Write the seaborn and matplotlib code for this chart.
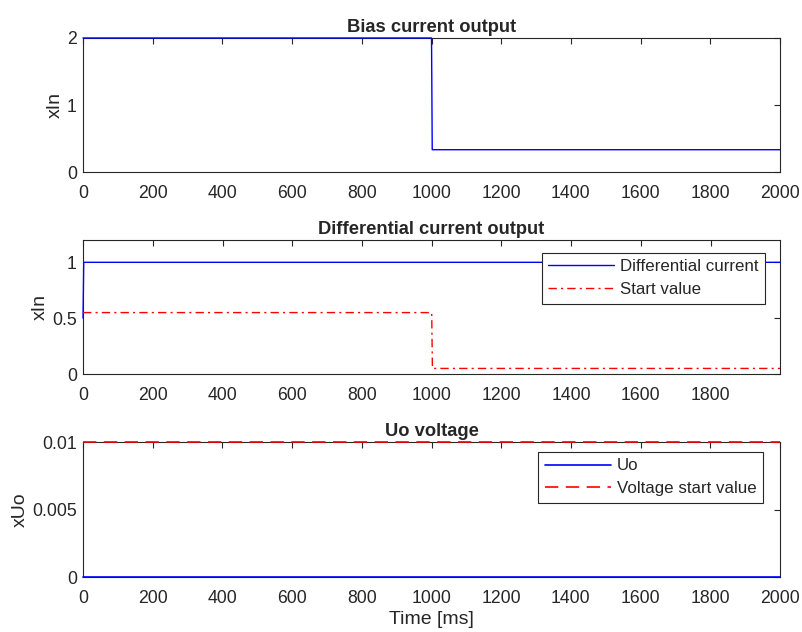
"""Bias current, differential current and Uo voltage over time (MATLAB-style subplots)."""

import matplotlib
matplotlib.use("Agg")
import matplotlib.pyplot as plt
import pandas as pd
import seaborn as sns

# Bias current output
bias_time = [0, 1000, 1002, 2000]
bias_value = [2, 2, 0.333, 0.333]

# Differential current output
diff_time = [0, 2, 1999]
diff_value = [0.5, 1, 1]
start_time = [0, 1000, 1002, 1999]
start_value = [0.55, 0.55, 0.05, 0.05]

# Uo voltage
uo_time = [0, 2000]
uo_value = [0, 0]
uo_start_value = [0.01, 0.01]

sns.set_theme(style="white")
plt.rcParams["font.family"] = ["Liberation Sans", "DejaVu Sans"]
plt.rcParams["axes.edgecolor"] = "#262626"
plt.rcParams["xtick.color"] = "#262626"
plt.rcParams["ytick.color"] = "#262626"

BLUE = "#0000ff"
RED = "#ff0000"
DASHDOT = (6, 3, 1.5, 3)
DASHED = (8, 4.5)


def style_axes(ax, xlim, ylim, yticks, xticks, title, ylabel):
    ax.set_xlim(*xlim)
    ax.set_ylim(*ylim)
    ax.set_xticks(xticks)
    ax.set_yticks(yticks)
    ax.tick_params(direction="in", top=True, right=True, length=4, width=0.8,
                   labelsize=12.7)
    ax.tick_params(axis="x", pad=9)
    ax.tick_params(axis="y", pad=4.5)
    for spine in ax.spines.values():
        spine.set_linewidth(0.8)
    ax.set_title(title, fontsize=13.2, fontweight="bold", pad=4)
    ax.set_ylabel(ylabel, fontsize=14, labelpad=2)
    ax.set_xlabel("")


def add_legend(ax, anchor):
    leg = ax.legend(loc="upper right", bbox_to_anchor=anchor,
                    borderaxespad=0, fontsize=12.2, handlelength=3.9,
                    fancybox=False, framealpha=1, edgecolor="#262626",
                    borderpad=0.38, labelspacing=0.46, handletextpad=0.35)
    leg.get_frame().set_linewidth(0.8)
    return leg


fig = plt.figure(figsize=(8.03, 6.32), dpi=100)
left, width = 0.1034, 0.868
ax1 = fig.add_axes([left, 0.7278, width, 0.2121])
ax2 = fig.add_axes([left, 0.4082, width, 0.2121])
ax3 = fig.add_axes([left, 0.0870, width, 0.2136])

x_ticks = list(range(0, 2001, 200))

# Panel 1
df1 = pd.DataFrame({"t": bias_time, "v": bias_value})
sns.lineplot(data=df1, x="t", y="v", ax=ax1, color=BLUE, linewidth=1,
             sort=False, estimator=None)
style_axes(ax1, (0, 2000), (0, 2), [0, 1, 2], x_ticks,
           "Bias current output", "xIn")

# Panel 2
df2a = pd.DataFrame({"t": diff_time, "v": diff_value})
df2b = pd.DataFrame({"t": start_time, "v": start_value})
sns.lineplot(data=df2a, x="t", y="v", ax=ax2, color=BLUE, linewidth=1,
             sort=False, estimator=None, label="Differential current")
sns.lineplot(data=df2b, x="t", y="v", ax=ax2, color=RED, linewidth=1,
             sort=False, estimator=None, label="Start value")
ax2.lines[1].set_dashes(DASHDOT)
style_axes(ax2, (0, 1999), (0, 1.2), [0, 0.5, 1], x_ticks[:-1],
           "Differential current output", "xIn")
ax2.set_yticklabels(["0", "0.5", "1"])
leg2 = add_legend(ax2, (0.9785, 0.903))
leg2.get_lines()[1].set_dashes(DASHDOT)

# Panel 3
df3a = pd.DataFrame({"t": uo_time, "v": uo_value})
df3b = pd.DataFrame({"t": uo_time, "v": uo_start_value})
sns.lineplot(data=df3a, x="t", y="v", ax=ax3, color=BLUE, linewidth=1.2,
             sort=False, estimator=None, label="Uo")
sns.lineplot(data=df3b, x="t", y="v", ax=ax3, color=RED, linewidth=1.2,
             sort=False, estimator=None, label="Voltage start value")
ax3.lines[1].set_dashes(DASHED)
style_axes(ax3, (0, 2000), (0, 0.01), [0, 0.005, 0.01], x_ticks,
           "Uo voltage", "xUo")
ax3.set_yticklabels(["0", "0.005", "0.01"])
ax3.set_xlabel("Time [ms]", fontsize=14, labelpad=3)
leg3 = add_legend(ax3, (0.9756, 0.926))
leg3.get_lines()[1].set_dashes(DASHED)

# lines sit on top of the box, as in MATLAB
for ax in (ax1, ax2, ax3):
    for line in ax.lines:
        line.set_clip_on(False)
        line.set_zorder(3)

fig.savefig("out.png", dpi=100)
plt.close(fig)
